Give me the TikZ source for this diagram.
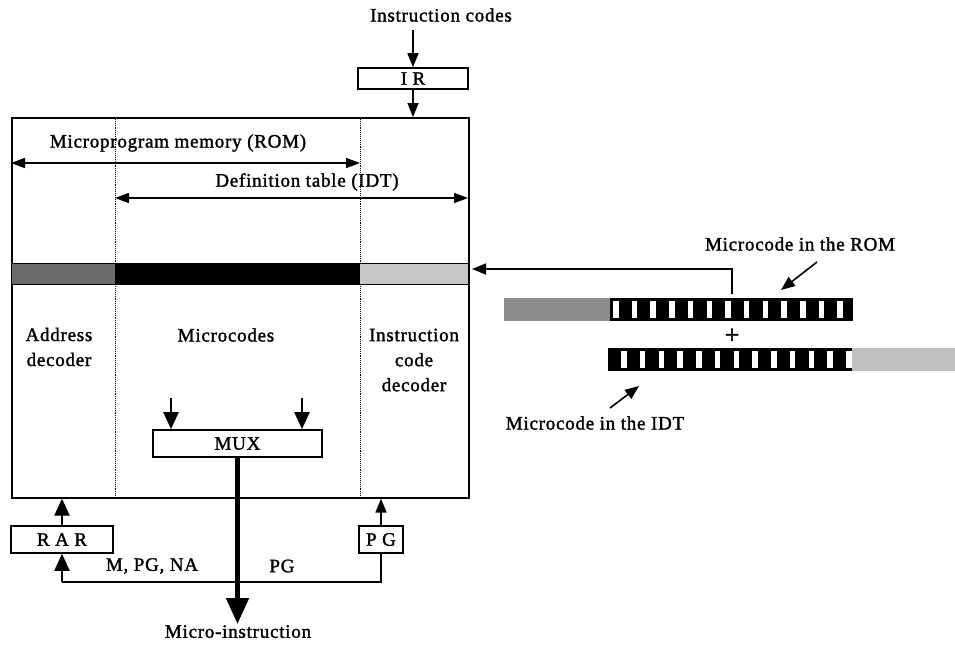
\documentclass[tikz,border=0pt]{standalone}
\usepackage{fontspec}
\setmainfont{Liberation Serif}[LetterSpace=4,FakeBold=1.6]
\usetikzlibrary{arrows.meta}
\begin{document}
\begin{tikzpicture}[x=1pt,y=-1pt,
  lbl/.style={font=\fontsize{19}{25}\selectfont, inner sep=0, align=center},
  box/.style={draw, line width=1.6, fill=white, inner sep=0, font=\fontsize{19}{25}\selectfont},
  arr/.style={-{Triangle[length=14,width=11]}, line width=1.6},
  bigarr/.style={-{Triangle[length=17,width=15]}, line width=2.2},
  darr/.style={{Triangle[length=14,width=10]}-{Triangle[length=14,width=10]}, line width=1.6},
  sep/.style={densely dotted, line width=0.9},
  slot/.style={fill=white}
]
\useasboundingbox (0,0) rectangle (955,646);

% main box
\node[draw, line width=1.6, minimum width=457, minimum height=380, anchor=north west, inner sep=0] (main) at (11,117) {};
\draw[sep] (115,117) -- (115,497);
\draw[sep] (360,117) -- (360,497);

% top
\node[lbl] (ic) at (441,15) {Instruction codes};
\node[box, minimum width=110, minimum height=21] (IR) at (413,78.5) {I R};
\coordinate (icin) at (413,30);
\draw[arr] (icin) -- (IR.north);
\draw[arr] (IR.south) -- (IR.south |- main.north);

% range arrows
\node[lbl] (romt) at (178,143) {Microprogram memory (ROM)};
\coordinate (romL) at (11,163);
\coordinate (romR) at (360,163);
\draw[darr] (romL) -- (romR);
\node[lbl] (idtt) at (307,182) {Definition table (IDT)};
\coordinate (idtL) at (115,198);
\coordinate (idtR) at (468,198);
\draw[darr] (idtL) -- (idtR);

% bar in the box
\fill[black!58] (11,263) rectangle (115,284);
\fill[black] (115,263) rectangle (360,284);
\fill[black!22] (360,263) rectangle (468,284);
\draw[line width=1] (11,263) rectangle (468,284);

% column labels
\node[lbl] (ad) at (59,347) {Address\\decoder};
\node[lbl] (mc) at (226,335) {Microcodes};
\node[lbl] (icd) at (414,360) {Instruction\\code\\decoder};

% MUX
\node[box, minimum width=169, minimum height=27] (mux) at (237.5,443.5) {MUX};
\coordinate (m1) at (171,398);
\coordinate (m2) at (302,398);
\draw[bigarr] (m1) -- (m1 |- mux.north);
\draw[bigarr] (m2) -- (m2 |- mux.north);
\coordinate (out) at (237.5,624);
\draw[line width=5, -{Triangle[length=26,width=22]}] (mux.south) -- (out);
\node[lbl, anchor=north] (mi) at (238,625) {Micro-instruction};

% RAR, PG
\node[box, minimum width=102, minimum height=27] (RAR) at (62,539.5) {R A R};
\node[box, minimum width=44, minimum height=27] (PG) at (381,539.5) {P G};
\draw[bigarr] (RAR.north) -- (RAR.north |- main.south);
\draw[arr] (PG.north) -- (PG.north |- main.south);
\coordinate (j) at (62,582);
\draw[line width=2] (PG.south) |- (j);
\draw[bigarr] (j) -- (RAR.south);
\node[lbl] (lab1) at (152,566) {M, PG, NA};
\node[lbl] (lab2) at (282,566) {PG};

% right side bars
\fill[black!45] (504,298) rectangle (610,321);
\fill[black] (610,298) rectangle (853,321);
\foreach \i in {0,...,12} {
  \fill[slot] ({613+18.7*\i},301) rectangle ({618.5+18.7*\i},318);
}
\fill[black] (608,348) rectangle (852,371);
\fill[black!25] (852,348) rectangle (955,371);
\foreach \i in {0,...,12} {
  \fill[slot] ({621+18.75*\i},351) rectangle ({626.5+18.75*\i},368);
}
\node[lbl, font=\fontsize{26}{25}\selectfont] (plus) at (732,336) {+};

\coordinate (fb) at (732,294);
\coordinate (fbt) at (472,269);
\draw[arr] (fb) |- (fbt);

\node[lbl] (rom) at (800,244) {Microcode in the ROM};
\coordinate (ra1) at (817,262);
\coordinate (ra2) at (781,290);
\draw[arr] (ra1) -- (ra2);
\node[lbl] (idt) at (595,423) {Microcode in the IDT};
\coordinate (ia1) at (610,408);
\coordinate (ia2) at (639,386);
\draw[arr] (ia1) -- (ia2);
\end{tikzpicture}
\end{document}
